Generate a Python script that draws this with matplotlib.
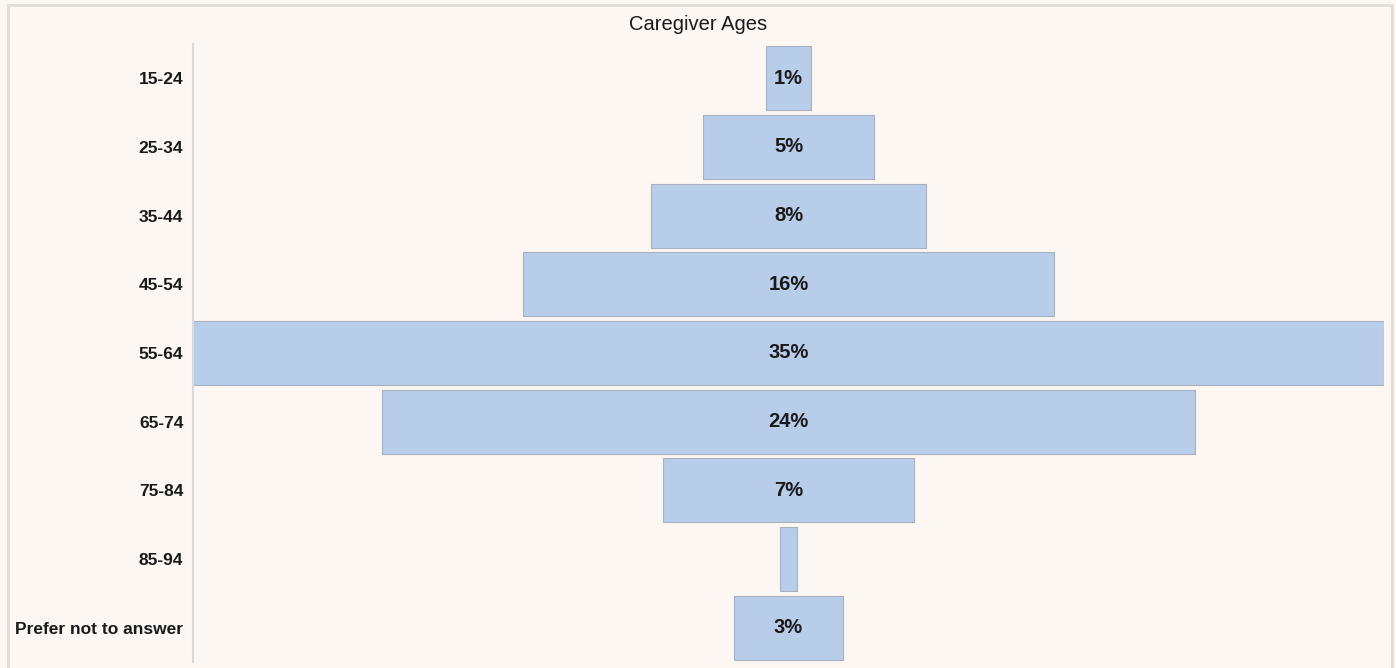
import matplotlib.pyplot as plt
from matplotlib.patches import Rectangle

# Caregiver age distribution (percent of respondents)
categories = ['15-24', '25-34', '35-44', '45-54', '55-64', '65-74', '75-84', '85-94', 'Prefer not to answer']
values = [1.3, 5.0, 8.1, 15.6, 35.0, 23.9, 7.4, 0.5, 3.2]
labels = ['1%', '5%', '8%', '16%', '35%', '24%', '7%', '', '3%']

bg = '#FCF7F3'
bar_color = '#B7CDE9'
edge_color = '#A8B1BD'

plt.rcParams['font.family'] = ['Liberation Sans', 'DejaVu Sans']

fig = plt.figure(figsize=(13.96, 6.68), dpi=100, facecolor=bg)
ax = fig.add_axes([193 / 1396, 6 / 668, (1384 - 193) / 1396, (662 - 44) / 668])
ax.set_facecolor(bg)

# centered bars -> funnel look
y = list(range(len(categories)))
lefts = [-v / 2 for v in values]
ax.barh(y, values, left=lefts, height=0.93, color=bar_color,
        edgecolor=edge_color, linewidth=0.8)

for yi, lab in zip(y, labels):
    if lab:
        ax.text(0, yi, lab, ha='center', va='center', fontsize=14.5,
                fontweight='bold', color='#1a1a1a')

mx = max(values) / 2
ax.set_xlim(-mx, mx)
ax.set_ylim(len(categories) - 0.5, -0.5)
ax.set_yticks(y)
ax.set_yticklabels(categories, fontsize=12.5, fontweight='bold', color='#1a1a1a')
ax.tick_params(axis='y', length=0, pad=7)
ax.set_xticks([])

for s in ['top', 'right', 'bottom']:
    ax.spines[s].set_visible(False)
ax.spines['left'].set_color('#DADADA')
ax.spines['left'].set_linewidth(1.5)

fig.text(698 / 1396, 1 - 25 / 668, 'Caregiver Ages', ha='center', va='center',
         fontsize=14.5, color='#1a1a1a')

# outer frame
fig.patches.append(Rectangle((8 / 1396, -0.05), (1392 - 8) / 1396, 1.05 - 5 / 668,
                             transform=fig.transFigure, fill=False,
                             edgecolor='#E2DDD8', linewidth=2))

fig.savefig('out.png', dpi=100, facecolor=bg)
